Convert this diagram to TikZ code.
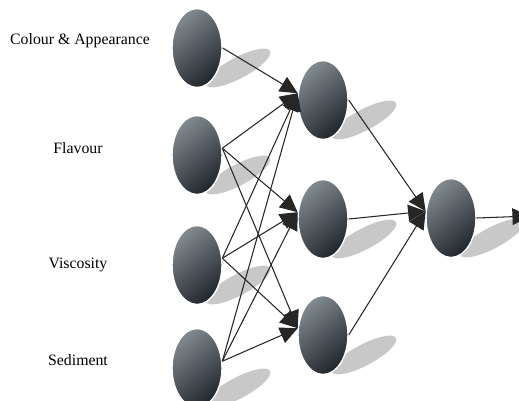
\documentclass[tikz,border=0pt]{standalone}
\usepackage{fontspec}
\setmainfont{Liberation Serif}
\usetikzlibrary{positioning,shapes.geometric,arrows.meta}
\definecolor{neuronlight}{RGB}{128,137,142}
\definecolor{neurondark}{RGB}{34,39,44}
\definecolor{shadowgray}{RGB}{200,200,200}

\begin{document}
\begin{tikzpicture}[x=0.02cm, y=-0.02cm,
  neuron/.style={ellipse, draw=white, line width=0.8pt, minimum width=1cm,
                 minimum height=1.58cm, inner sep=0pt,
                 top color=neuronlight, bottom color=neurondark, shading angle=40},
  shade/.style={ellipse, fill=shadowgray, minimum width=1.45cm,
                minimum height=0.42cm, inner sep=0pt, rotate=28},
  link/.style={draw=black!85, line width=0.6pt,
               -{Triangle[length=10pt, width=9.5pt]}},
  lab/.style={font=\fontsize{9}{11}\selectfont}
]
\useasboundingbox (0,0) rectangle (519,400);
\clip (0,0) rectangle (519,400);
% ---- ombres ----------------------------------------------------------
\foreach \x/\y in {197/48,197/155,197/265,197/368,323/100,323/219,323/335,451/218}
  \node[shade] at (\x+41,\y+20) {};

% ---- couche d'entree ---------------------------------------------------
\node[neuron] (in1) at (197,48) {};
\node[neuron] (in2) at (197,155) {};
\node[neuron] (in3) at (197,265) {};
\node[neuron] (in4) at (197,368) {};
\node[lab] (colour) at (80,41) {Colour \& Appearance};
\node[lab] (flavour) at (78,148) {Flavour};
\node[lab] (viscosity) at (78,265) {Viscosity};
\node[lab] (sediment) at (78,360) {Sediment};

% ---- couche cachee et sortie -------------------------------------------
\node[neuron] (h1) at (323,100) {};
\node[neuron] (h2) at (323,219) {};
\node[neuron] (h3) at (323,335) {};
\node[neuron] (out) at (451,218) {};
\coordinate (end) at (530,216);

% ---- connexions --------------------------------------------------------
\draw[link] (in1.east) -- (h1.165);
\foreach \i in {2,3,4}
  \foreach \h in {1,2,3}
    \draw[link] (in\i.15) -- (h\h.165);
\foreach \h in {1,2,3}
  \draw[link] (h\h.east) -- (out.165);
\draw[link] (out.east) -- (end);
\end{tikzpicture}
\end{document}
